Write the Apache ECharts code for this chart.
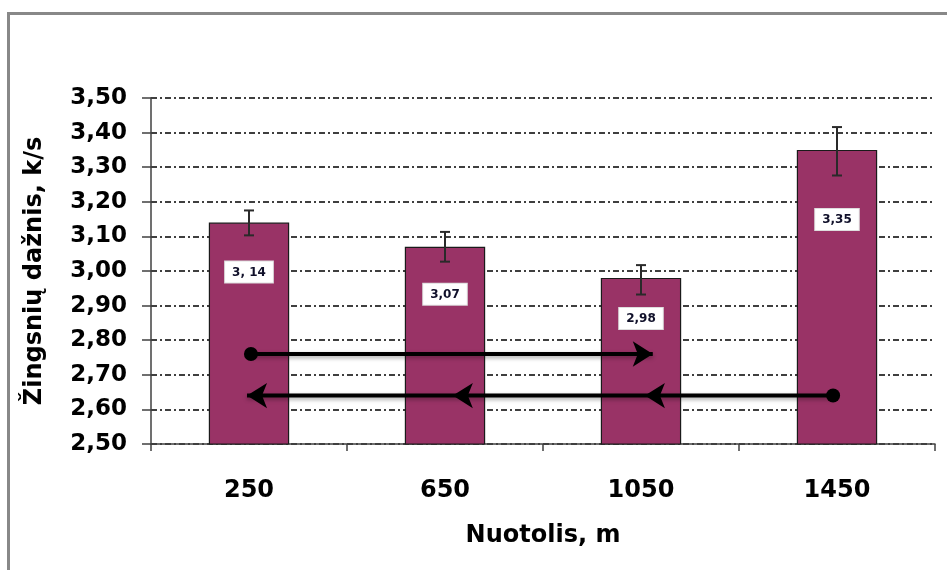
<!DOCTYPE html>
<html><head><meta charset="utf-8">
<script src="https://cdn.jsdelivr.net/npm/echarts@6/dist/echarts.min.js"></script>
<style>html,body{margin:0;padding:0;background:#fff}#c{width:947px;height:570px}</style>
</head><body><div id="c"></div>
<script>
// Data
var categories = ['250', '650', '1050', '1450'];
var values = [3.14, 3.07, 2.98, 3.35];
var errHigh = [3.175, 3.113, 3.017, 3.416];
var errLow = [3.103, 3.027, 2.932, 3.276];
var labelTexts = ['3, 14', '3,07', '2,98', '3,35'];
var yTicks = [2.5, 2.6, 2.7, 2.8, 2.9, 3.0, 3.1, 3.2, 3.3, 3.4, 3.5];
// arrow lines (x in category-band units: centre of category i = i + 0.5)
var arrowForwardX = [0.51, 2.56];
var arrowForwardY = 2.76;
var arrowBackX = [3.48, 2.52, 1.54, 0.49];
var arrowBackY = 2.64;

var labelDist = [39, 37, 30, 59];
var fontFam = '"DejaVu Sans", sans-serif';

var chart = echarts.init(document.getElementById('c'), null, {renderer: 'canvas'});

var barData = values.map(function (v, i) {
  return {
    value: v,
    label: {distance: labelDist[i], formatter: labelTexts[i]}
  };
});

var fwdData = arrowForwardX.map(function (x, i) {
  return {
    value: [x, arrowForwardY],
    symbol: i === 0 ? 'circle' : 'arrow',
    symbolSize: i === 0 ? 14 : [19, 20],
    symbolRotate: i === 0 ? 0 : -90
  };
});
var backData = arrowBackX.map(function (x, i) {
  return {
    value: [x, arrowBackY],
    symbol: i === 0 ? 'circle' : 'arrow',
    symbolSize: i === 0 ? 14 : [19, 20],
    symbolRotate: i === 0 ? 0 : 90
  };
});

var option = {
  animation: false,
  backgroundColor: '#fff',
  graphic: [{
    type: 'rect',
    shape: {x: 8.5, y: 13.5, width: 1000, height: 700},
    style: {fill: 'none', stroke: '#888', lineWidth: 3},
    z: 100
  }],
  grid: {left: 151, right: 12, top: 98, bottom: 126},
  xAxis: [{
    type: 'category',
    data: categories,
    name: 'Nuotolis, m',
    nameLocation: 'middle',
    nameGap: 80,
    nameTextStyle: {fontFamily: fontFam, fontWeight: 'bold', fontSize: 24, color: '#000'},
    axisLine: {lineStyle: {color: '#404040', width: 1.5}},
    axisTick: {show: true, length: 7, lineStyle: {color: '#404040', width: 1.5}},
    axisLabel: {margin: 35, fontFamily: fontFam, fontWeight: 'bold', fontSize: 24, color: '#000'},
    splitLine: {show: false}
  }, {
    type: 'value',
    min: 0, max: 4,
    show: false
  }],
  yAxis: [{
    type: 'value',
    min: 2.5, max: 3.5, interval: 0.1,
    name: 'Žingsnių dažnis, k/s',
    nameLocation: 'middle',
    nameGap: 104,
    nameRotate: 90,
    nameTextStyle: {fontFamily: fontFam, fontWeight: 'bold', fontSize: 24, color: '#000'},
    axisLine: {show: true, lineStyle: {color: '#404040', width: 1.5}},
    axisTick: {show: true, length: 9, lineStyle: {color: '#404040', width: 1.5}},
    axisLabel: {
      margin: 24, fontFamily: fontFam, fontWeight: 'bold', fontSize: 23, color: '#000',
      formatter: function (v) {
        var hit = yTicks.filter(function (t) { return Math.abs(t - v) < 1e-6; });
        return hit.length ? hit[0].toFixed(2).replace('.', ',') : '';
      }
    },
    splitLine: {show: true, lineStyle: {color: '#000', width: 1.5, type: [6, 3, 2, 3]}}
  }],
  series: [{
    type: 'bar',
    data: barData,
    barWidth: '41%',
    itemStyle: {color: '#993366', borderColor: '#1a1a1a', borderWidth: 1.2},
    label: {
      show: true,
      position: 'insideTop',
      fontFamily: fontFam, fontWeight: 'bold', fontSize: 12, color: '#10102a',
      backgroundColor: '#fff',
      borderColor: '#ddd', borderWidth: 1,
      padding: [5, 7, 4, 7]
    },
    z: 2
  }, {
    type: 'custom',
    data: values.map(function (v, i) { return [i, errLow[i], errHigh[i]]; }),
    renderItem: function (params, api) {
      var i = api.value(0);
      var lo = api.coord([i, api.value(1)]);
      var hi = api.coord([i, api.value(2)]);
      var hw = 5;
      var st = {stroke: '#2a2a2a', lineWidth: 2};
      return {
        type: 'group',
        children: [
          {type: 'line', shape: {x1: hi[0], y1: hi[1], x2: lo[0], y2: lo[1]}, style: st},
          {type: 'line', shape: {x1: hi[0] - hw, y1: hi[1], x2: hi[0] + hw, y2: hi[1]}, style: st},
          {type: 'line', shape: {x1: lo[0] - hw, y1: lo[1], x2: lo[0] + hw, y2: lo[1]}, style: st}
        ]
      };
    },
    z: 3
  }, {
    type: 'line',
    xAxisIndex: 1,
    data: fwdData,
    showSymbol: true,
    lineStyle: {color: '#000', width: 4, shadowColor: 'rgba(0,0,0,0.35)', shadowBlur: 4, shadowOffsetY: 2},
    itemStyle: {color: '#000'},
    z: 5
  }, {
    type: 'line',
    xAxisIndex: 1,
    data: backData,
    showSymbol: true,
    lineStyle: {color: '#000', width: 4, shadowColor: 'rgba(0,0,0,0.35)', shadowBlur: 4, shadowOffsetY: 2},
    itemStyle: {color: '#000'},
    z: 5
  }]
};
chart.setOption(option);
</script>
</body></html>
